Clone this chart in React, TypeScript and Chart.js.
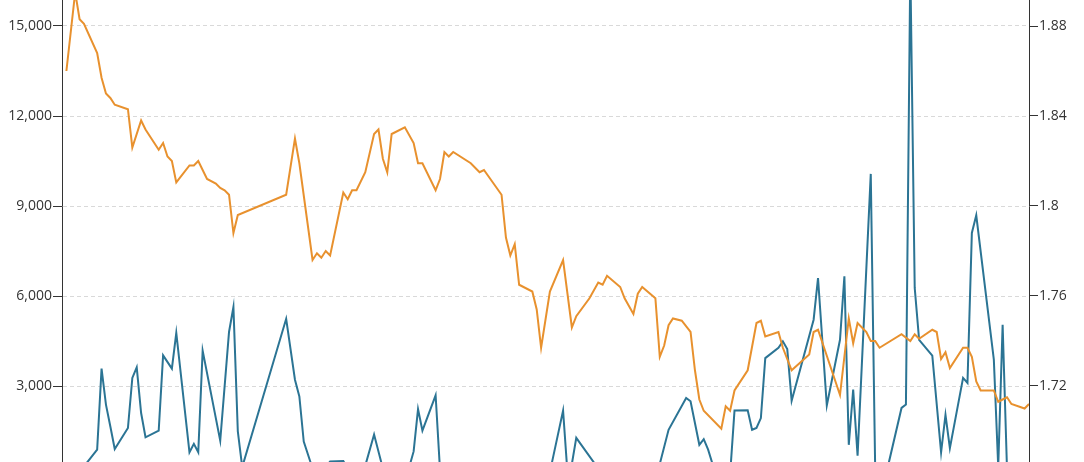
import { useEffect, useRef } from "react";
import { Chart, registerables } from "chart.js";

Chart.register(...registerables);

// Trading-day index (x) for the rate series (right axis)
const rateDays = [
  0, 2, 3, 4, 7, 8, 9, 10, 11, 14,
  15, 17, 18, 21, 22, 23, 24, 25, 28, 29,
  30, 32, 34, 35, 36, 37, 38, 39, 50, 52,
  53, 56, 57, 58, 59, 60, 63, 64, 65, 66,
  68, 70, 71, 72, 73, 74, 77, 79, 80, 81,
  84, 85, 86, 87, 88, 92, 94, 95, 99, 100,
  101, 102, 103, 106, 107, 108, 110, 113, 115, 116,
  119, 121, 122, 123, 126, 127, 129, 130, 131, 134,
  135, 136, 137, 138, 140, 142, 143, 144, 145, 149,
  150, 151, 152, 155, 157, 158, 159, 162, 163, 165,
  169, 170, 171, 176, 178, 179, 180, 182, 183, 184,
  185, 190, 192, 193, 194, 197, 198, 199, 200, 201,
  204, 205, 206, 207, 208, 211, 212, 213, 214, 215,
  218, 219,
];
const rates = [
  1.860, 1.895, 1.883, 1.881, 1.868, 1.857, 1.850, 1.848, 1.845, 1.843,
  1.826, 1.838, 1.834, 1.825, 1.828, 1.822, 1.820, 1.8105, 1.818, 1.818,
  1.820, 1.812, 1.810, 1.808, 1.807, 1.805, 1.788, 1.796, 1.805, 1.830,
  1.819, 1.776, 1.779, 1.777, 1.780, 1.778, 1.806, 1.803, 1.807, 1.807,
  1.815, 1.832, 1.834, 1.821, 1.815, 1.832, 1.835, 1.828, 1.819, 1.819,
  1.807, 1.812, 1.824, 1.822, 1.824, 1.819, 1.815, 1.816, 1.805, 1.786,
  1.778, 1.783, 1.765, 1.762, 1.754, 1.737, 1.762, 1.776, 1.746, 1.751,
  1.759, 1.766, 1.765, 1.769, 1.764, 1.759, 1.752, 1.761, 1.764, 1.759,
  1.733, 1.738, 1.747, 1.750, 1.749, 1.744, 1.727, 1.714, 1.709, 1.701,
  1.711, 1.709, 1.718, 1.727, 1.748, 1.749, 1.742, 1.744, 1.737, 1.727,
  1.734, 1.744, 1.745, 1.716, 1.750, 1.739, 1.748, 1.744, 1.740, 1.740,
  1.737, 1.743, 1.740, 1.743, 1.741, 1.745, 1.744, 1.732, 1.735, 1.728,
  1.737, 1.737, 1.733, 1.722, 1.718, 1.718, 1.713, 1.714, 1.715, 1.712,
  1.710, 1.712,
];

// Trading-day index (x) for the volume series (left axis)
const volumeDays = [
  0, 4, 7, 8, 9, 10, 11, 14, 15, 16,
  17, 18, 21, 22, 24, 25, 28, 29, 30, 31,
  35, 37, 38, 39, 40, 50, 52, 53, 54, 56,
  59, 60, 63, 64, 68, 70, 72, 78, 79, 80,
  81, 84, 85, 95, 105, 110, 113, 114, 115, 116,
  121, 130, 135, 137, 141, 142, 144, 145, 146, 147,
  149, 151, 152, 155, 156, 157, 158, 159, 162, 163,
  164, 165, 170, 171, 173, 176, 177, 178, 179, 180,
  183, 184, 185, 187, 190, 191, 192, 193, 194, 197,
  199, 200, 201, 204, 205, 206, 207, 211, 212, 213,
  214, 216, 219,
];
const volumes = [
  100, 320, 880, 3580, 2380, 1650, 900, 1600, 3270, 3620,
  2100, 1290, 1510, 4020, 3580, 4770, 790, 1070, 790, 4180,
  1180, 4800, 5630, 1490, 300, 5240, 3210, 2650, 1150, 250,
  300, 480, 500, 250, 350, 1380, 250, 300, 820, 2230,
  1510, 2690, 200, 150, 120, 130, 2180, 100, 400, 1270,
  250, 150, 400, 1540, 2600, 2490, 1040, 1230, 880, 400,
  150, 50, 2180, 2190, 1540, 1600, 1930, 3930, 4270, 4490,
  4230, 2510, 5210, 6600, 2350, 4540, 6660, 1040, 2880, 680,
  10070, 300, 150, 380, 2270, 2380, 17000, 6270, 4540, 4010,
  790, 2040, 930, 3270, 3100, 8100, 8690, 3880, 300, 5040,
  200, 150, 100,
];

const ORANGE = "#E8912E";
const BLUE = "#2B7494";
const AXIS = "#333333";
const GRID = "#d9d9d9";
const FONT = { family: "'Open Sans', 'Noto Sans', sans-serif", size: 14 };

export default function App() {
  const ref = useRef<HTMLCanvasElement>(null);

  useEffect(() => {
    const canvas = ref.current;
    if (!canvas) return;
    const chart = new Chart(canvas, {
      type: "line",
      data: {
        datasets: [
          {
            label: "Rate",
            data: rateDays.map((d, i) => ({ x: d, y: rates[i] })),
            yAxisID: "y1",
            borderColor: ORANGE,
            borderWidth: 2,
            pointRadius: 0,
            tension: 0,
            fill: false,
          },
          {
            label: "Volume",
            data: volumeDays.map((d, i) => ({ x: d, y: volumes[i] })),
            yAxisID: "y",
            borderColor: BLUE,
            borderWidth: 2,
            pointRadius: 0,
            tension: 0,
            fill: false,
          },
        ],
      },
      options: {
        animation: false,
        responsive: false,
        layout: { padding: { top: 20, bottom: 20, left: 0, right: 0 } },
        plugins: {
          legend: { display: false },
          tooltip: { enabled: false },
        },
        scales: {
          x: { type: "linear", display: false, min: -1, max: 219 },
          y: {
            position: "left",
            min: 0,
            max: 18000,
            afterFit: (s: any) => {
              s.width = 62;
            },
            ticks: {
              stepSize: 3000,
              padding: 1,
              color: AXIS,
              font: FONT,
              callback: (v: any) => Number(v).toLocaleString("en-US"),
            },
            grid: {
              color: GRID,
              tickColor: AXIS,
              tickLength: 9,
              tickBorderDash: [],
            },
            border: { color: AXIS, width: 1, dash: [4, 3] },
          },
          y1: {
            position: "right",
            min: 1.68,
            max: 1.92,
            afterFit: (s: any) => {
              s.width = 55;
            },
            ticks: {
              stepSize: 0.04,
              padding: 1,
              color: AXIS,
              font: FONT,
              callback: (v: any) => String(Number(Number(v).toFixed(2))),
            },
            grid: {
              drawOnChartArea: false,
              tickColor: AXIS,
              tickLength: 9,
            },
            border: { color: AXIS, width: 1 },
          },
        },
      },
    });
    return () => chart.destroy();
  }, []);

  return (
    <div
      style={{
        position: "fixed",
        left: 0,
        top: -84,
        width: 1084,
        height: 580,
        background: "#ffffff",
      }}
    >
      <canvas ref={ref} width={1084} height={580} style={{ display: "block" }} />
    </div>
  );
}
